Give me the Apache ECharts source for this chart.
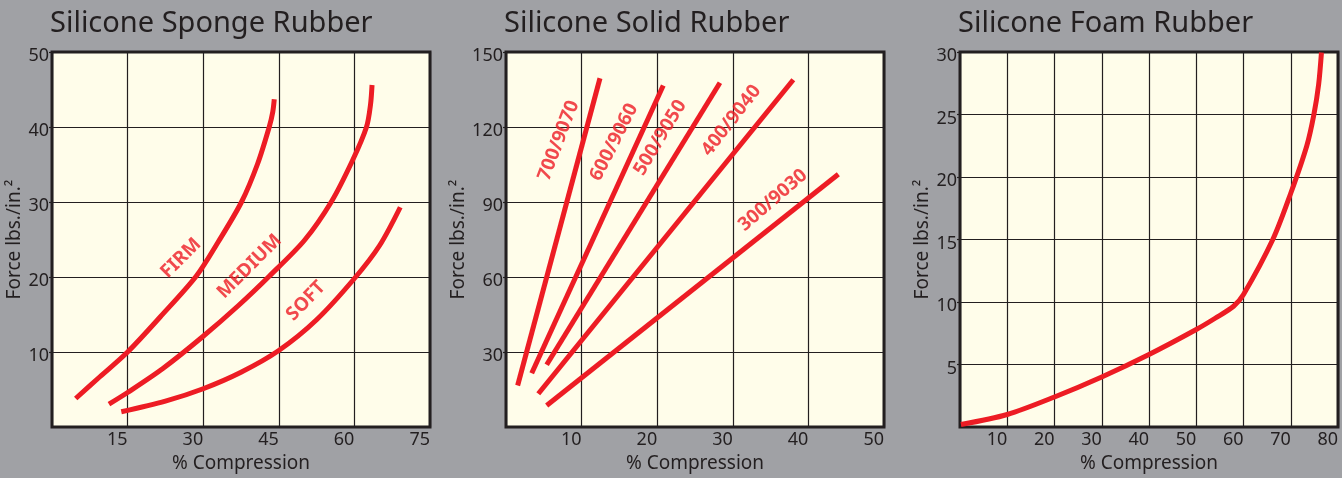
<!DOCTYPE html>
<html>
<head>
<meta charset="utf-8">
<script src="https://cdn.jsdelivr.net/npm/echarts@6/dist/echarts.min.js"></script>
<style>
  html, body { margin: 0; padding: 0; background: #a0a1a5; }
  #chart { width: 1342px; height: 478px; }
</style>
</head>
<body>
<div id="chart"></div>
<script>
// chart titles
const titles = ['Silicone Sponge Rubber', 'Silicone Solid Rubber', 'Silicone Foam Rubber'];

// sponge rubber curves: [% compression, force]
const firm = [[4.7, 3.8], [9.5, 6.7], [15, 10], [21.5, 14.7], [28.6, 20.1], [33, 24.7], [37.6, 30], [40.8, 35.1], [43.1, 40], [43.8, 42], [44.1, 43.7]];
const medium = [[11.3, 3.05], [15, 4.6], [22, 7.8], [30, 12.1], [37, 16.2], [43.1, 20.1], [50.1, 24.9], [55.4, 30], [59.6, 35.5], [62.4, 40], [63.2, 43], [63.5, 45.6]];
const soft = [[13.75, 2.03], [22.5, 3.45], [30, 5.1], [37.5, 7.3], [45, 10.2], [52.5, 14.3], [60, 19.8], [65, 24.2], [69.1, 29.3]];
const spongeNames = ['FIRM', 'MEDIUM', 'SOFT'];
const spongeLabelPos = [[25.6, 22.5], [39.2, 21.4], [50.4, 16.8]];
const spongeLabelRot = [45, 45, 46];

// solid rubber lines (start / end)
const solidNames = ['700/9070', '600/9060', '500/9050', '400/9040', '300/9030'];
const solid700 = [[1.54, 16.6], [12.43, 139.5]];
const solid600 = [[3.4, 21.5], [20.8, 136.6]];
const solid500 = [[5.38, 24.9], [28.3, 137.7]];
const solid400 = [[4.27, 13.3], [38.0, 138.9]];
const solid300 = [[5.38, 8.6], [43.96, 101.1]];
const solidLabelPos = [[6.97, 114.6], [14.3, 113.9], [20.4, 115.7], [29.8, 122.6], [35.3, 90.7]];
const solidLabelRot = [69, 63, 59, 52, 41];

// foam rubber curve
const foam = [[0.2, 0.2], [10, 1.0], [20, 2.4], [30, 4.0], [40, 5.8], [50, 7.8], [54, 8.7], [57.9, 9.66], [60, 10.6], [66.2, 15], [70, 18.7], [73.4, 22.5], [74.9, 25], [75.9, 27.4], [76.5, 29.96]];

// axes
const xMax = [75, 50, 80];
const xStep = [15, 10, 10];
const yMax = [50, 150, 30];
const yStep = [10, 30, 5];
const gridLefts = [52, 506, 960];

const RED = '#ed1c24';
const INK = '#231f20';
const FONT = 'Noto Sans';

const chart = echarts.init(document.getElementById('chart'));

function lineSeries(data, idx, smooth) {
  return {
    type: 'line',
    xAxisIndex: idx,
    yAxisIndex: idx,
    data: data,
    smooth: smooth,
    symbol: 'none',
    lineStyle: { color: RED, width: 5, cap: 'butt' },
    silent: true,
    z: 3
  };
}

function labelSeries(pos, names, rots, idx) {
  return {
    type: 'scatter',
    xAxisIndex: idx,
    yAxisIndex: idx,
    symbolSize: 0,
    silent: true,
    z: 4,
    data: pos.map((p, i) => ({
      value: p,
      label: {
        show: true,
        position: 'inside',
        formatter: names[i],
        rotate: rots[i],
        color: RED,
        fontSize: 19,
        fontWeight: 'bold',
        fontFamily: FONT
      }
    }))
  };
}

let grids = [], xAxes = [], yAxes = [], titleOpts = [];
for (let i = 0; i < 3; i++) {
  grids.push({
    left: gridLefts[i], top: 52, width: 378, height: 376,
    show: true, backgroundColor: '#fffdea', borderColor: INK, borderWidth: 3
  });
  titleOpts.push({
    text: titles[i], left: gridLefts[i] - 2, top: 9, padding: 0,
    textStyle: { color: INK, fontSize: 29, fontWeight: 'normal', fontFamily: FONT }
  });
  xAxes.push({
    type: 'value', gridIndex: i, min: 0, max: xMax[i], interval: xStep[i],
    name: '% Compression', nameLocation: 'middle', nameGap: 27,
    nameTextStyle: { color: INK, fontSize: 19, fontFamily: FONT },
    axisLine: { show: false }, axisTick: { show: false },
    axisLabel: { showMinLabel: false, color: INK, fontSize: 18, fontFamily: FONT, align: 'right', margin: 4 },
    splitLine: { show: true, lineStyle: { color: INK, width: 1.2 } }
  });
  yAxes.push({
    type: 'value', gridIndex: i, min: 0, max: yMax[i], interval: yStep[i],
    name: 'Force lbs./in.²', nameLocation: 'middle', nameGap: 23, nameRotate: 90,
    nameTextStyle: { color: INK, fontSize: 19, fontFamily: FONT },
    axisLine: { show: false },
    axisTick: { show: true, length: 3, lineStyle: { color: INK, width: 1.2 } },
    axisLabel: {
      showMinLabel: false, margin: 3,
      formatter: v => '{a|' + v + '}',
      rich: { a: { color: INK, fontSize: 18, fontFamily: FONT, padding: [8, 0, 0, 0] } }
    },
    splitLine: { show: true, lineStyle: { color: INK, width: 1.2 } }
  });
}

chart.setOption({
  backgroundColor: '#a0a1a5',
  animation: false,
  title: titleOpts,
  grid: grids,
  xAxis: xAxes,
  yAxis: yAxes,
  series: [
    lineSeries(firm, 0, 0.3),
    lineSeries(medium, 0, 0.3),
    lineSeries(soft, 0, 0.3),
    labelSeries(spongeLabelPos, spongeNames, spongeLabelRot, 0),
    lineSeries(solid700, 1, false),
    lineSeries(solid600, 1, false),
    lineSeries(solid500, 1, false),
    lineSeries(solid400, 1, false),
    lineSeries(solid300, 1, false),
    labelSeries(solidLabelPos, solidNames, solidLabelRot, 1),
    lineSeries(foam, 2, 0.3)
  ]
});
</script>
</body>
</html>
